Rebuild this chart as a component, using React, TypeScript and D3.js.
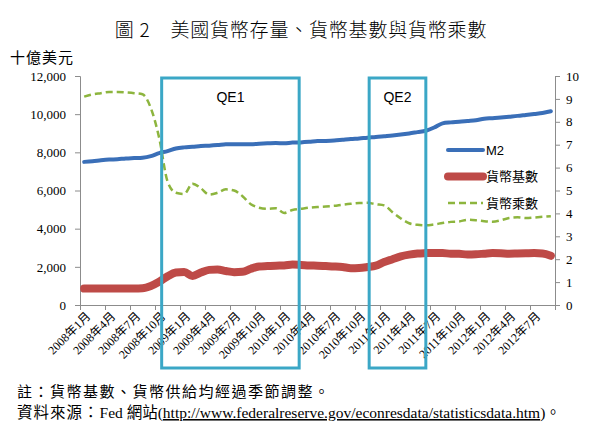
import React, { useEffect, useRef } from "react";
import * as d3 from "d3";

// 2008年1月 .. 2012年9月, monthly
const tickLabels = [
  "2008年1月", "2008年4月", "2008年7月", "2008年10月",
  "2009年1月", "2009年4月", "2009年7月", "2009年10月",
  "2010年1月", "2010年4月", "2010年7月", "2010年10月",
  "2011年1月", "2011年4月", "2011年7月", "2011年10月",
  "2012年1月", "2012年4月", "2012年7月",
];

// M2 (十億美元)
const m2 = [
  7500, 7530, 7580, 7620, 7640, 7680, 7700, 7720, 7800, 7960,
  8060, 8200, 8260, 8290, 8330, 8350, 8380, 8420, 8430, 8420,
  8430, 8450, 8470, 8490, 8470, 8510, 8520, 8550, 8590, 8600,
  8620, 8660, 8700, 8730, 8770, 8800, 8840, 8880, 8930, 8990,
  9060, 9130, 9300, 9520, 9570, 9600, 9640, 9680, 9760, 9790,
  9830, 9870, 9910, 9960, 10010, 10060, 10150,
];

// 貨幣基數 (十億美元)
const base = [
  860, 870, 870, 870, 870, 870, 870, 880, 1000, 1220,
  1500, 1700, 1730, 1520, 1700, 1840, 1860, 1780, 1720, 1740,
  1900, 2020, 2040, 2060, 2070, 2120, 2100, 2070, 2060, 2040,
  2020, 1990, 1930, 1940, 1990, 2060, 2250, 2400, 2550, 2640,
  2700, 2720, 2730, 2720, 2690, 2680, 2650, 2660, 2690, 2720,
  2710, 2690, 2700, 2710, 2720, 2700, 2580,
];

// 貨幣乘數 (right axis)
const mult = [
  9.10, 9.20, 9.25, 9.30, 9.30, 9.28, 9.25, 9.20, 8.60, 7.30,
  5.40, 4.90, 4.85, 5.30, 5.10, 4.82, 4.90, 5.05, 5.00, 4.75,
  4.40, 4.25, 4.20, 4.22, 4.02, 4.15, 4.20, 4.25, 4.28, 4.30,
  4.33, 4.38, 4.42, 4.45, 4.46, 4.40, 4.35, 4.05, 3.78, 3.57,
  3.50, 3.48, 3.52, 3.58, 3.63, 3.65, 3.72, 3.70, 3.66, 3.64,
  3.70, 3.80, 3.83, 3.80, 3.82, 3.85, 3.88,
];

const leftTicks = [0, 2000, 4000, 6000, 8000, 10000, 12000];
const rightTicks = [0, 1, 2, 3, 4, 5, 6, 7, 8, 9, 10];

// QE periods as month index ranges
const qePeriods = [
  { name: "QE1", from: 9.8, to: 26.3 },
  { name: "QE2", from: 34.7, to: 41.5 },
];

const series = [
  { name: "M2", values: m2, axis: "left", color: "#3a6fb8", width: 4, dash: null },
  { name: "貨幣基數", values: base, axis: "left", color: "#be4a47", width: 8, dash: null },
  { name: "貨幣乘數", values: mult, axis: "right", color: "#8db53e", width: 2.5, dash: "7,4" },
];

const SERIF = "'Liberation Serif', 'Noto Sans CJK TC', serif";
const CJK = "'Noto Sans CJK TC', 'Liberation Serif', serif";
const SANS = "'Liberation Sans', 'Noto Sans CJK TC', sans-serif";

export default function App() {
  const ref = useRef<SVGSVGElement>(null);

  useEffect(() => {
    const svg = d3.select(ref.current);
    svg.selectAll("*").remove();

    const left = 80, right = 555, top = 76, bottom = 305;
    const n = m2.length;

    const x = d3.scaleLinear().domain([0, n]).range([left, right]);
    const yL = d3.scaleLinear().domain([0, 12000]).range([bottom, top]);
    const yR = d3.scaleLinear().domain([0, 10]).range([bottom, top]);

    svg.append("rect").attr("width", 600).attr("height", 427).attr("fill", "#fff");

    // title
    svg.append("text")
      .attr("x", 301).attr("y", 37)
      .attr("text-anchor", "middle")
      .style("font-family", CJK).style("font-size", "19px").style("font-weight", 300)
      .style("letter-spacing", "0.8px")
      .text("圖 2　美國貨幣存量、貨幣基數與貨幣乘數");

    svg.append("text")
      .attr("x", 10).attr("y", 63)
      .style("font-family", CJK).style("font-size", "15px").style("letter-spacing", "1px")
      .text("十億美元");

    // axes
    const axisColor = "#8c8c8c";
    const gl = svg.append("g").attr("transform", `translate(${left},0)`)
      .call(d3.axisLeft(yL).tickValues(leftTicks).tickSize(5).tickPadding(9).tickFormat(d3.format(",")));
    const gr = svg.append("g").attr("transform", `translate(${right},0)`)
      .call(d3.axisRight(yR).tickValues(rightTicks).tickSize(5).tickPadding(6).tickFormat(d3.format("d")));
    const gx = svg.append("g").attr("transform", `translate(0,${bottom})`)
      .call(d3.axisBottom(x).tickValues(d3.range(0, n + 1, 3)).tickSize(5).tickFormat(() => ""));
    [gl, gr, gx].forEach((g) => {
      g.selectAll("path, line").attr("stroke", axisColor);
      g.selectAll("text").style("font-family", SERIF).style("font-size", "13px").attr("fill", "#000");
    });

    // x labels, rotated
    svg.append("g").selectAll("text")
      .data(tickLabels)
      .enter()
      .append("text")
      .attr("transform", (d, i) => `translate(${x(i * 3 + 0.5) + 4},${bottom + 9}) rotate(-45)`)
      .attr("text-anchor", "end")
      .attr("dy", "0.35em")
      .style("font-family", SERIF).style("font-size", "12px")
      .text((d) => d);

    // lines
    series.forEach((s) => {
      const y = s.axis === "left" ? yL : yR;
      const line = d3.line<number>()
        .x((d, i) => x(i + 0.5))
        .y((d) => y(d))
        .curve(d3.curveMonotoneX);
      svg.append("path")
        .datum(s.values)
        .attr("d", line)
        .attr("fill", "none")
        .attr("stroke", s.color)
        .attr("stroke-width", s.width)
        .attr("stroke-linecap", s.dash ? "butt" : "round")
        .attr("stroke-linejoin", "round")
        .attr("stroke-dasharray", s.dash);
    });

    // QE boxes
    qePeriods.forEach((q) => {
      svg.append("rect")
        .attr("x", x(q.from)).attr("y", 78)
        .attr("width", x(q.to) - x(q.from)).attr("height", 290)
        .attr("fill", "none").attr("stroke", "#3ba7c6").attr("stroke-width", 3);
      svg.append("text")
        .attr("x", (x(q.from) + x(q.to)) / 2).attr("y", 102)
        .attr("text-anchor", "middle")
        .style("font-family", SANS).style("font-size", "14px")
        .text(q.name);
    });

    // legend
    const lg = svg.append("g").attr("transform", "translate(448,150)");
    series.forEach((s, i) => {
      const gy = i * 26.5;
      lg.append("line")
        .attr("x1", 0).attr("x2", 35).attr("y1", gy).attr("y2", gy)
        .attr("stroke", s.color).attr("stroke-width", s.width)
        .attr("stroke-linecap", s.dash ? "butt" : "round")
        .attr("stroke-dasharray", s.dash);
      lg.append("text")
        .attr("x", 38).attr("y", gy).attr("dy", "0.35em")
        .style("font-family", SANS).style("font-size", "13px")
        .text(s.name);
    });

    // notes
    svg.append("text")
      .attr("x", 17).attr("y", 397)
      .style("font-family", CJK).style("font-size", "15px").style("letter-spacing", "1.5px")
      .text("註：貨幣基數、貨幣供給均經過季節調整。");

    const src = svg.append("text").attr("x", 17).attr("y", 418).style("font-size", "15.5px");
    src.append("tspan").style("font-family", CJK).style("letter-spacing", "1px").text("資料來源：");
    src.append("tspan").style("font-family", SERIF).text("Fed ");
    src.append("tspan").style("font-family", CJK).text("網站");
    src.append("tspan").style("font-family", SERIF).text("(");
    src.append("tspan").style("font-family", SERIF).style("text-decoration", "underline")
      .text("http://www.federalreserve.gov/econresdata/statisticsdata.htm");
    src.append("tspan").style("font-family", SERIF).text(")");
    src.append("tspan").style("font-family", CJK).text("。");
  }, []);

  return (
    <svg
      ref={ref}
      width={600}
      height={427}
      style={{ position: "absolute", left: 0, top: 0, display: "block" }}
    />
  );
}
